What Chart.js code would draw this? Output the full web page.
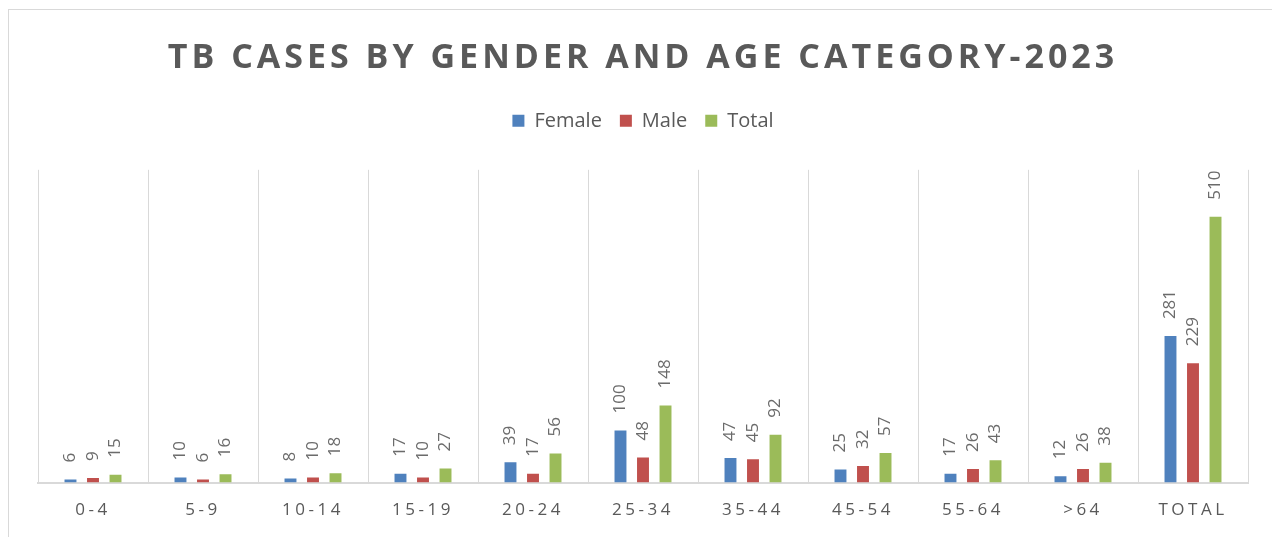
<!DOCTYPE html>
<html>
<head>
<meta charset="utf-8">
<script src="https://cdn.jsdelivr.net/npm/chart.js@4/dist/chart.umd.min.js"></script>
<style>
  html, body { margin: 0; padding: 0; background: #fff; }
  .frame { position: absolute; left: 8px; top: 9px; width: 1300px; height: 600px; border: 1px solid #d9d9d9; }
  #chart { position: absolute; left: 0; top: 0; }
</style>
</head>
<body>
<div class="frame"></div>
<canvas id="chart" width="1272" height="537"></canvas>
<script>
// TB cases 2023
const categories = ['0-4', '5-9', '10-14', '15-19', '20-24', '25-34', '35-44', '45-54', '55-64', '>64', 'TOTAL'];
const female = [6, 10, 8, 17, 39, 100, 47, 25, 17, 12, 281];
const male = [9, 6, 10, 10, 17, 48, 45, 32, 26, 26, 229];
const total = [15, 16, 18, 27, 56, 148, 92, 57, 43, 38, 510];

const GREY = '#595959';
const LINE = '#d9d9d9';

// letter spacing for title and x labels, extra room under the legend
const spacedText = {
  id: 'spacedText',
  afterInit(chart) {
    const lg = chart.legend;
    const fit = lg.fit;
    lg.fit = function () { fit.call(this); this.height += 29; };
    const tb = chart.titleBlock;
    const draw = tb.draw;
    tb.draw = function () {
      chart.ctx.save();
      chart.ctx.letterSpacing = '4px';
      draw.apply(this, arguments);
      chart.ctx.restore();
    };
  },
  beforeDraw(chart) {
    const sx = chart.scales.x;
    if (sx._spaced) return;
    const drawLabels = sx.drawLabels;
    sx.drawLabels = function () {
      chart.ctx.save();
      chart.ctx.letterSpacing = '3.5px';
      drawLabels.apply(this, arguments);
      chart.ctx.restore();
    };
    sx._spaced = true;
  }
};

// vertical value labels above bars
const barLabels = {
  id: 'barLabels',
  afterDatasetsDraw(chart) {
    const ctx = chart.ctx;
    ctx.save();
    ctx.font = '17px "Open Sans"';
    ctx.fillStyle = '#6b6b6b';
    ctx.textAlign = 'left';
    ctx.textBaseline = 'middle';
    chart.data.datasets.forEach((ds, i) => {
      chart.getDatasetMeta(i).data.forEach((bar, j) => {
        ctx.save();
        ctx.translate(bar.x, bar.y - 17);
        ctx.rotate(-Math.PI / 2);
        ctx.fillText(String(ds.data[j]), 0, 0);
        ctx.restore();
      });
    });
    ctx.restore();
  }
};

new Chart(document.getElementById('chart'), {
  type: 'bar',
  data: {
    labels: categories,
    datasets: [
      { label: 'Female', data: female, backgroundColor: '#4f81bd' },
      { label: 'Male', data: male, backgroundColor: '#c0504d' },
      { label: 'Total', data: total, backgroundColor: '#9bbb59' },
    ],
  },
  options: {
    responsive: false,
    animation: false,
    categoryPercentage: 0.614,
    barPercentage: 0.53,
    layout: { padding: { left: 38, right: 24, top: 0, bottom: 0 } },
    plugins: {
      title: {
        display: true,
        text: 'TB CASES BY GENDER AND AGE CATEGORY-2023',
        color: GREY,
        font: { family: 'Open Sans', size: 34, weight: 'bold', lineHeight: 1.2 },
        padding: { top: 38, bottom: 14 },
      },
      legend: {
        position: 'top',
        labels: {
          color: GREY,
          font: { family: 'Open Sans', size: 20 },
          boxWidth: 12, boxHeight: 12,
          padding: 18,
        },
      },
      tooltip: { enabled: false },
    },
    scales: {
      x: {
        grid: { color: LINE, lineWidth: 1, drawTicks: false, offset: true },
        border: { color: LINE, width: 2 },
        ticks: {
          color: GREY, padding: 17, maxRotation: 0, autoSkip: false,
          font: { family: 'Open Sans', size: 17 },
        },
      },
      y: { display: false, min: 0, max: 600 },
    },
  },
  plugins: [spacedText, barLabels],
});
</script>
</body>
</html>
